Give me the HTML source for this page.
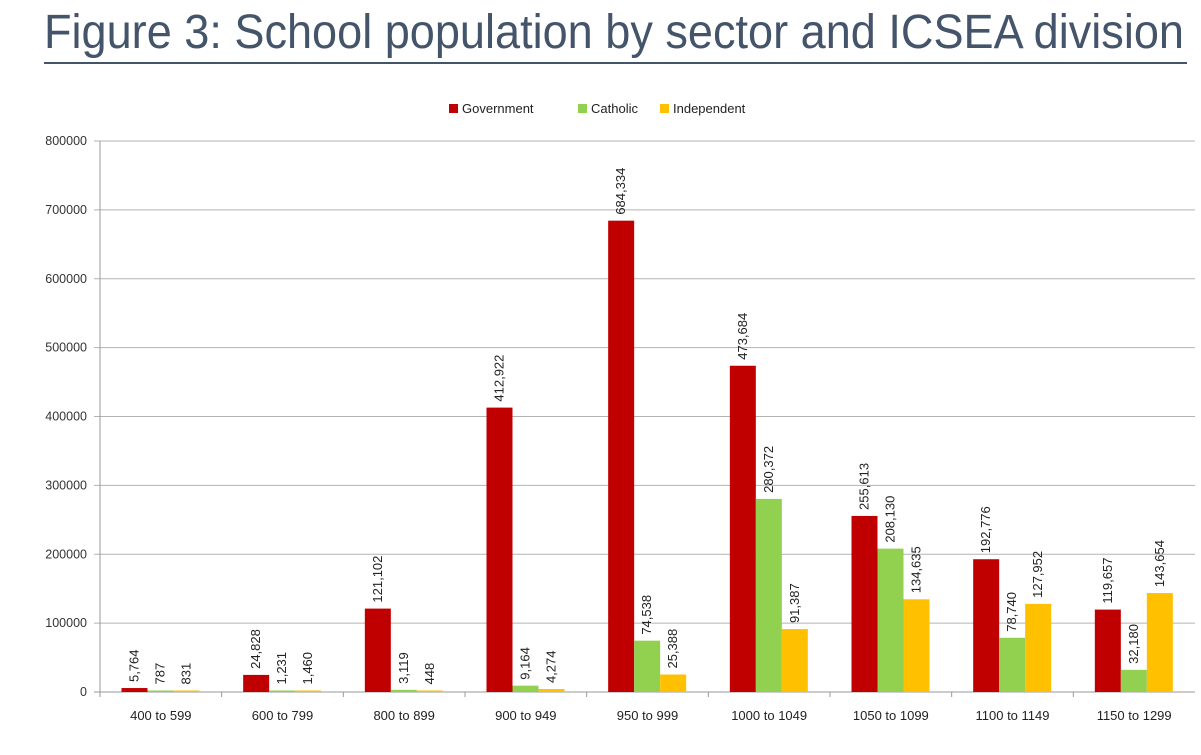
<!DOCTYPE html>
<html><head><meta charset="utf-8"><style>
body{margin:0;background:#fff;width:1201px;height:755px;overflow:hidden;font-family:"Liberation Sans",sans-serif}
#title{position:absolute;left:44px;top:4px;width:1143px;height:58px;border-bottom:2px solid #44546a;}
#title span{position:absolute;left:0;top:0;font-family:"Liberation Sans Narrow","Liberation Sans",sans-serif;font-size:48px;color:#44546a;white-space:nowrap;line-height:58px;transform-origin:0 0;}
</style></head><body>
<div id="title"><span id="tt">Figure 3: School population by sector and ICSEA division</span></div>
<svg id="chart" width="1201" height="755" style="position:absolute;left:0;top:0"></svg>
<script>
const categories=["400 to 599","600 to 799","800 to 899","900 to 949","950 to 999","1000 to 1049","1050 to 1099","1100 to 1149","1150 to 1299"];
const government=[5764,24828,121102,412922,684334,473684,255613,192776,119657];
const catholic=[787,1231,3119,9164,74538,280372,208130,78740,32180];
const independent=[831,1460,448,4274,25388,91387,134635,127952,143654];
const seriesNames=["Government","Catholic","Independent"];
const yTicks=[0,100000,200000,300000,400000,500000,600000,700000,800000];
const colors=["#c00000","#92d050","#ffc000"];
const tt=document.getElementById('tt');tt.style.transform='scaleX('+(1140/tt.getBoundingClientRect().width)+')';
const svg=document.getElementById('chart');const NS="http://www.w3.org/2000/svg";
const X0=100,X1=1195,Y0=692,Y1=141,YMAX=800000;
const cw=(X1-X0)/categories.length,bw=26,off=21.5;
const y=v=>Y0-(v/YMAX)*(Y0-Y1);
function el(t,a,txt){const e=document.createElementNS(NS,t);for(const k in a)e.setAttribute(k,a[k]);if(txt!=null)e.textContent=txt;svg.appendChild(e);return e;}
yTicks.forEach(t=>{const l=el('line',{x1:X0-6,x2:X1,y1:y(t),y2:y(t),stroke:t?'#b3b3b3':'#999','stroke-width':1});


const tx=el('text',{x:X0-13,y:y(t)+4,'text-anchor':'end','font-size':12.5,fill:'#333'},t);

});
el('line',{x1:X0,x2:X0,y1:Y1,y2:Y0,stroke:'#999'});
const all=[government,catholic,independent];
categories.forEach((c,i)=>{const cx=X0+i*cw;
const tk=el('line',{x1:cx,x2:cx,y1:Y0,y2:Y0+5,stroke:'#999'});


const lb=el('text',{x:cx+cw/2,y:Y0+28,'text-anchor':'middle','font-size':13,fill:'#222'},c);


all.forEach((s,j)=>{const bx=cx+off+j*bw,v=s[i];
const h=Math.max(Y0-y(v),1.5);
const r=el('rect',{x:bx,y:Y0-h,width:bw,height:h,fill:colors[j]});


const lx=bx+bw/2+4,ly=Y0-h-6;
const t=el('text',{x:lx,y:ly,'font-size':13,fill:'#222',transform:`rotate(-90 ${lx} ${ly})`},v.toLocaleString('en-US'));

});
});
const lx=[449,578,660];
seriesNames.forEach((n,j)=>{const r=el('rect',{x:lx[j],y:104,width:9,height:9,fill:colors[j]});


const t=el('text',{x:lx[j]+13,y:113,'font-size':13,fill:'#222'},n);

});
</script>
</body></html>
